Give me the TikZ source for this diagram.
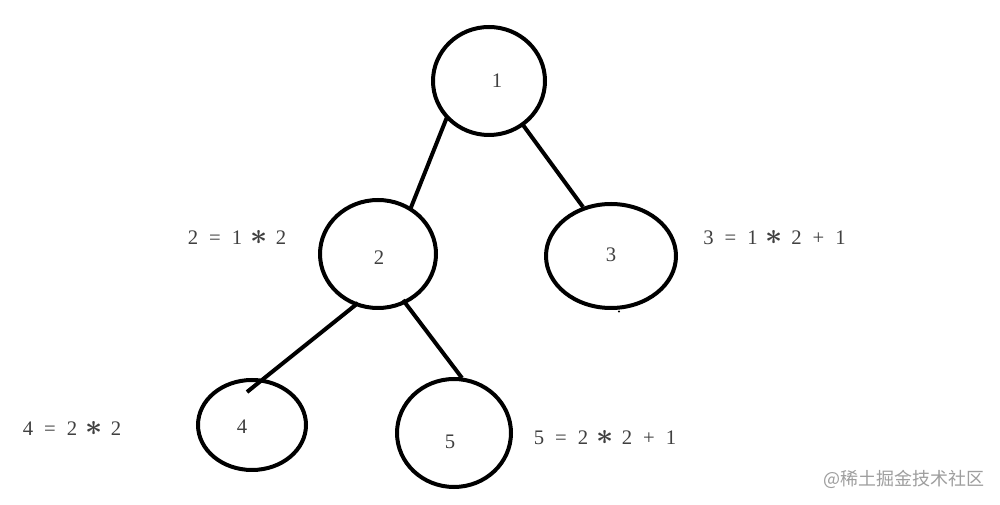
\documentclass[tikz,border=0pt]{standalone}
\usepackage{fontspec}
\usepackage{graphicx}
\setmainfont{Liberation Serif}
\newfontfamily\cjk{Noto Sans CJK SC}
\usetikzlibrary{shapes.geometric,calc}
\newcommand{\cellc}[1]{\makebox[8.25pt]{#1}}
\newcommand{\bigast}{\cellc{\scalebox{1.55}{$\boldsymbol{\ast}$}}}
\usepackage{amsmath}
\tikzset{
  treenode/.style={draw=black, line width=3pt, ellipse, inner sep=0pt},
  edge/.style={draw=black, line width=3pt},
  numlabel/.style={text=black!75, font=\fontsize{15.5}{18}\selectfont, inner sep=0pt},
  formula/.style={text=black!75, font=\fontsize{15.5}{18}\selectfont, inner sep=0pt},
  watermark/.style={text=black!38, font=\cjk\fontsize{13.5}{16}\selectfont, inner sep=0pt}
}
\begin{document}
\begin{tikzpicture}[x=0.75pt,y=-0.75pt]
\useasboundingbox (0,0) rectangle (1000,505);
\fill[white] (0,0) rectangle (1000,505);
% ellipses
\node[treenode, minimum width=84pt, minimum height=81pt] (n1) at (489,81) {};
\node[treenode, minimum width=87pt, minimum height=81pt] (n2) at (378,254) {};
\node[treenode, minimum width=97.5pt, minimum height=78pt] (n3) at (611,256) {};
\node[treenode, minimum width=81pt, minimum height=67.5pt] (n4) at (252,425) {};
\node[treenode, minimum width=85.5pt, minimum height=81pt] (n5) at (454,433) {};
% labels
\node[numlabel] (t1) at (497,81) {1};
\node[numlabel] (t2) at (379,258) {2};
\node[numlabel] (t3) at (611,255) {3};
\node[numlabel] (t4) at (242,427) {4};
\node[numlabel] (t5) at (450,442) {5};
% edges
\draw[edge] ($(n1.center)+(-42,36)$) -- ($(n2.center)+(32,-44)$);
\draw[edge] ($(n1.center)+(34,44)$) -- ($(n3.center)+(-28,-49)$);
\draw[edge] ($(n2.center)+(-20,49)$) -- ($(n4.center)+(-5,-33)$);
\draw[edge] ($(n2.center)+(25,46)$) -- ($(n5.center)+(8,-55)$);
% tiny mark below node 3
\coordinate (m) at (619,311.5);
\fill[black] (m) circle[radius=0.9pt];
% formulas
\node[formula] (f2) at (237,237) {\cellc{2}\cellc{}\cellc{=}\cellc{}\cellc{1}\cellc{}\bigast\cellc{}\cellc{2}};
\node[formula] (f3) at (774.5,238) {\cellc{3}\cellc{}\cellc{=}\cellc{}\cellc{1}\cellc{}\bigast\cellc{}\cellc{2}\cellc{}\cellc{+}\cellc{}\cellc{1}};
\node[formula] (f4) at (72,428) {\cellc{4}\cellc{}\cellc{=}\cellc{}\cellc{2}\cellc{}\bigast\cellc{}\cellc{2}};
\node[formula] (f5) at (605,438) {\cellc{5}\cellc{}\cellc{=}\cellc{}\cellc{2}\cellc{}\bigast\cellc{}\cellc{2}\cellc{}\cellc{+}\cellc{}\cellc{1}};
% watermark
\node[watermark] (wm) at (904,479) {@稀土掘金技术社区};
\end{tikzpicture}
\end{document}
